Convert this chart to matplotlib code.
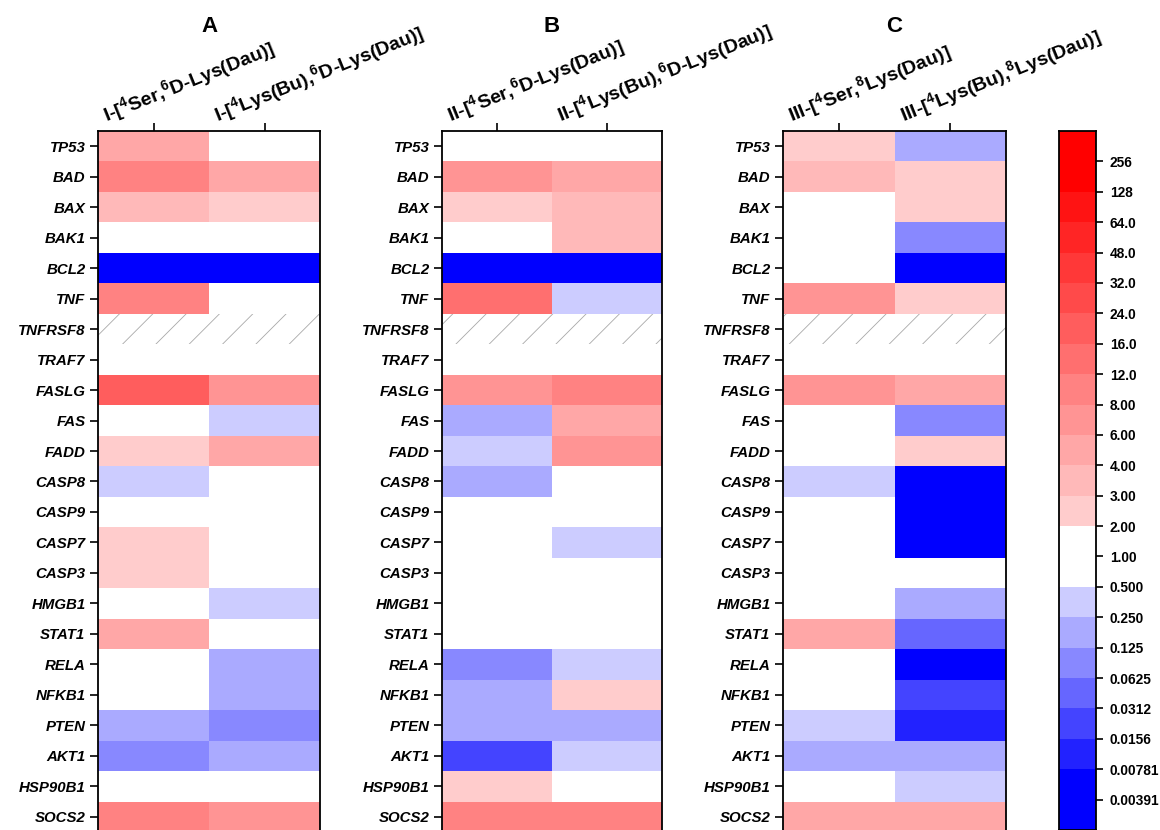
import numpy as np
import matplotlib
matplotlib.use("Agg")
import matplotlib.pyplot as plt
from matplotlib.colors import ListedColormap, BoundaryNorm
from matplotlib.patches import Rectangle
import matplotlib.transforms as mtransforms

plt.rcParams['font.family'] = ['Liberation Sans', 'DejaVu Sans']
plt.rcParams['mathtext.fontset'] = 'custom'
plt.rcParams['mathtext.rm'] = 'Liberation Sans:bold'
plt.rcParams['mathtext.it'] = 'Liberation Sans:bold:italic'
plt.rcParams['mathtext.bf'] = 'Liberation Sans:bold'
plt.rcParams['mathtext.default'] = 'rm'
plt.rcParams['hatch.linewidth'] = 0.6

# ---------------- data ----------------
genes = ["TP53", "BAD", "BAX", "BAK1", "BCL2", "TNF", "TNFRSF8", "TRAF7", "FASLG",
         "FAS", "FADD", "CASP8", "CASP9", "CASP7", "CASP3", "HMGB1", "STAT1", "RELA",
         "NFKB1", "PTEN", "AKT1", "HSP90B1", "SOCS2"]

panel_titles = ["A", "B", "C"]
col_labels = [
    [r"I-[$^4$Ser,$^6$D-Lys(Dau)]", r"I-[$^4$Lys(Bu),$^6$D-Lys(Dau)]"],
    [r"II-[$^4$Ser,$^6$D-Lys(Dau)]", r"II-[$^4$Lys(Bu),$^6$D-Lys(Dau)]"],
    [r"III-[$^4$Ser,$^8$Lys(Dau)]", r"III-[$^4$Lys(Bu),$^8$Lys(Dau)]"],
]

nan = np.nan
a1 = [5, 10, 3.5, 1, 0.004, 10, nan, 1, 20, 1, 2.5, 0.35, 1, 2.5, 2.5, 1, 5, 1, 1, 0.18, 0.09, 1, 10]
a2 = [1, 5, 2.5, 1, 0.004, 1, nan, 1, 7, 0.35, 5, 1, 1, 1, 1, 0.35, 1, 0.18, 0.18, 0.09, 0.18, 1, 7]
b1 = [1, 7, 2.5, 1, 0.004, 14, nan, 1, 7, 0.18, 0.35, 0.18, 1, 1, 1, 1, 1, 0.09, 0.18, 0.18, 0.022, 2.5, 10]
b2 = [1, 5, 3.5, 3.5, 0.004, 0.35, nan, 1, 10, 5, 7, 1, 1, 0.35, 1, 1, 1, 0.35, 2.5, 0.18, 0.35, 1, 10]
c1 = [2.5, 3.5, 1, 1, 1, 7, nan, 1, 7, 1, 1, 0.35, 1, 1, 1, 1, 5, 1, 1, 0.35, 0.18, 1, 5]
c2 = [0.18, 2.5, 2.5, 0.09, 0.004, 2.5, nan, 1, 5, 0.09, 2.5, 0.004, 0.004, 0.004, 1, 0.18, 0.045,
      0.004, 0.022, 0.011, 0.18, 0.35, 5]
panels = [(a1, a2), (b1, b2), (c1, c2)]

boundaries = [1e-4, 0.00781, 0.0156, 0.0312, 0.0625, 0.125, 0.25, 0.5, 2, 3, 4, 6, 8,
              12, 16, 24, 32, 48, 64, 128, 1e4]
cbar_labels = ['0.00391', '0.00781', '0.0156', '0.0312', '0.0625', '0.125', '0.250', '0.500',
               '1.00', '2.00', '3.00', '4.00', '6.00', '8.00', '12.0', '16.0', '24.0', '32.0',
               '48.0', '64.0', '128', '256']
cbar_edges = [-1, 1, 2, 3, 4, 5, 6, 7, 9, 10, 11, 12, 13, 14, 15, 16, 17, 18, 19, 20, 22]

# colours: 7 blue bands, white, 12 red bands
blues = [(v / 255, v / 255, 1.0) for v in np.linspace(0, 204, 7)]
reds = [(1.0, v / 255, v / 255) for v in np.linspace(204, 0, 12)]
colors = blues + [(1, 1, 1)] + reds
cmap = ListedColormap(colors)
cmap.set_bad((1, 1, 1))
norm = BoundaryNorm(boundaries, cmap.N)

# ---------------- figure ----------------
W, H = 1160, 830
fig = plt.figure(figsize=(W / 100, H / 100), dpi=100)

def px_axes(x0, x1, y0, y1):
    return fig.add_axes([x0 / W, (H - y1) / H, (x1 - x0) / W, (y1 - y0) / H])

panel_px = [(98, 320), (442, 662), (783, 1006)]
top_px, bot_px = 131, 832
n = len(genes)

for p, ((x0, x1), (v1, v2)) in enumerate(zip(panel_px, panels)):
    ax = px_axes(x0, x1, top_px, bot_px)
    data = np.ma.masked_invalid(np.array([v1, v2], dtype=float).T)
    ax.pcolormesh(np.arange(3), np.arange(n + 1), data, cmap=cmap, norm=norm,
                  shading='flat', edgecolors='none')
    ax.set_xlim(0, 2)
    ax.set_ylim(n, 0)
    # NaN rows hatched
    for r in range(n):
        for c in range(2):
            if np.isnan([v1, v2][c][r]):
                ax.add_patch(Rectangle((c, r), 1, 1, fill=False, hatch='/',
                                       edgecolor='#a8a8a8', linewidth=0))
    ax.set_yticks(np.arange(n) + 0.5)
    ax.set_yticklabels(genes, fontsize=10.8, fontweight='bold', fontstyle='italic')
    ax.set_xticks([0.5, 1.5])
    ax.set_xticklabels([])
    ax.xaxis.set_ticks_position('top')
    ax.tick_params(axis='y', direction='out', length=6, width=1.2, pad=3)
    ax.tick_params(axis='x', direction='out', length=6, width=1.2)
    for s in ax.spines.values():
        s.set_linewidth(1.3)
        s.set_color('black')
    for i, lab in enumerate(col_labels[p]):
        off = mtransforms.ScaledTranslation(-47 / 100, 9 / 100, fig.dpi_scale_trans)
        ax.text(i + 0.5, 0, lab, transform=ax.transData + off, rotation=22,
                rotation_mode='anchor', ha='left', va='baseline',
                fontsize=14, fontweight='bold')
    fig.text(((x0 + x1) / 2) / W, (H - 27) / H, panel_titles[p], ha='center', va='center',
             fontsize=16, fontweight='bold')

# ---------------- colour bar ----------------
cax = px_axes(1059, 1096, 131, 830)
for k in range(len(colors)):
    cax.add_patch(Rectangle((0, cbar_edges[k]), 1, cbar_edges[k + 1] - cbar_edges[k],
                            facecolor=colors[k], edgecolor='none'))
cax.set_xlim(0, 1)
cax.set_ylim(-1, 22)
cax.set_xticks([])
cax.yaxis.tick_right()
cax.set_yticks(np.arange(len(cbar_labels)))
cax.set_yticklabels(cbar_labels, fontsize=9.9, fontweight='bold')
cax.tick_params(axis='y', direction='out', length=5, width=1.2, pad=5)
for s in cax.spines.values():
    s.set_linewidth(1.3)

fig.savefig("out.png", dpi=100)
